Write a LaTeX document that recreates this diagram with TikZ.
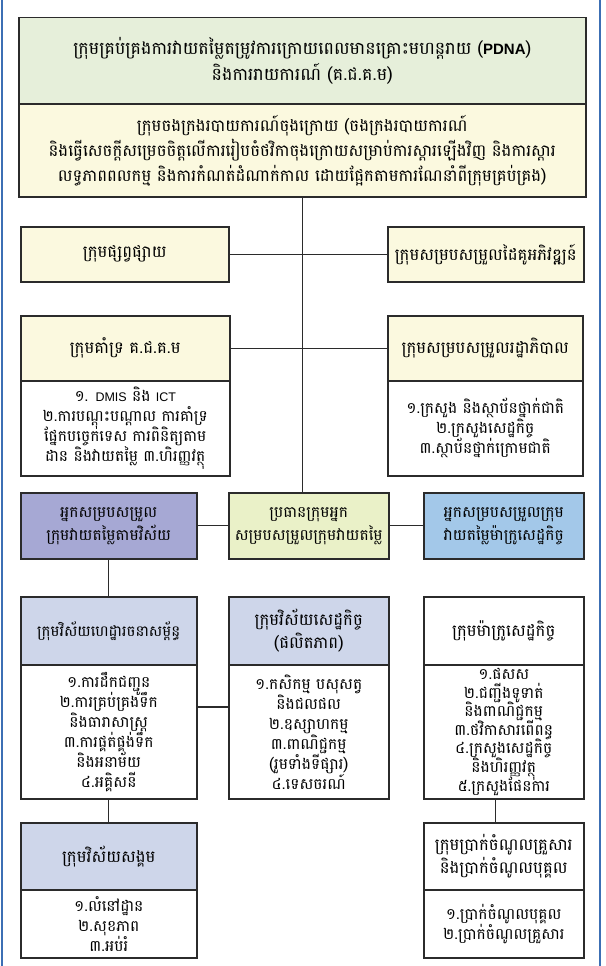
\documentclass[tikz,border=0pt]{standalone}
\usepackage{fontspec}
\newfontfamily\kh[Script=Khmer]{Battambang}
\newfontfamily\lat{Liberation Sans}
\usetikzlibrary{calc}
\definecolor{topgreen}{HTML}{E6EFDA}
\definecolor{cream}{HTML}{FBF9DF}
\definecolor{purplebox}{HTML}{A6A8D4}
\definecolor{chiefbox}{HTML}{EAF1C8}
\definecolor{bluebox}{HTML}{A3C8E9}
\definecolor{sectorbox}{HTML}{CED6EA}
\definecolor{edge}{HTML}{2B2B2B}
\definecolor{frameblue}{HTML}{3C6FB4}
\begin{document}
\begin{tikzpicture}[x=1pt,y=-1pt,
  bx/.style={draw=edge, line width=1.5pt, inner sep=0pt, align=center, anchor=north west, text=black},
  ln/.style={draw=edge, line width=1.4pt},
  bigtxt/.style={font=\kh\fontsize{17.5}{26}\selectfont},
  midtxt/.style={font=\kh\fontsize{16.5}{25}\selectfont},
  hdtxt/.style={font=\kh\fontsize{16.5}{23}\selectfont},
  rowtxt/.style={font=\kh\fontsize{15.5}{23}\selectfont},
  listtxt/.style={font=\kh\fontsize{15.5}{20}\selectfont}]
\lineskiplimit=-50pt \lineskip=0pt
\useasboundingbox (0,0) rectangle (605,966);
\draw[frameblue, line width=1.2pt] (2,0) -- (2,966);
\draw[frameblue, line width=1.2pt] (600,0) -- (600,966);

% top boxes
\node[bx, bigtxt, fill=topgreen, minimum width=567pt, minimum height=86pt] (top) at (18,17)
  {ក្រុមគ្រប់គ្រងការវាយតម្លៃតម្រូវការក្រោយពេលមានគ្រោះមហន្តរាយ ({\lat\bfseries\fontsize{15}{26}\selectfont PDNA})\\និងការរាយការណ៍ (គ.ជ.គ.ម)};
\node[bx, midtxt, fill=cream, minimum width=567pt, minimum height=93pt] (rep) at (18,103)
  {ក្រុមចងក្រងរបាយការណ៍ចុងក្រោយ (ចងក្រងរបាយការណ៍\\និងធ្វើសេចក្តីសម្រេចចិត្តលើការរៀបចំថវិកាចុងក្រោយសម្រាប់ការស្តារឡើងវិញ និងការស្តារ\\លទ្ធភាពពលកម្ម និងការកំណត់ដំណាក់កាល ដោយផ្អែកតាមការណែនាំពីក្រុមគ្រប់គ្រង)};

% media / partners
\node[bx, hdtxt, fill=cream, minimum width=208pt, minimum height=55pt] (media) at (20,226) {ក្រុមផ្សព្វផ្សាយ};
\node[bx, hdtxt, fill=cream, minimum width=196pt, minimum height=55pt] (dev) at (387,226) {ក្រុមសម្របសម្រួលដៃគូអភិវឌ្ឍន៍};

% support / government
\node[bx, hdtxt, fill=cream, minimum width=209pt, minimum height=65pt] (sup) at (20,315) {ក្រុមគាំទ្រ គ.ជ.គ.ម};
\node[bx, listtxt, fill=white, minimum width=209pt, minimum height=95pt] (supL) at (20,380)
  {១. {\lat\fontsize{12.5}{20}\selectfont DMIS} និង {\lat\fontsize{12.5}{20}\selectfont ICT}\\២.ការបណ្តុះបណ្តាល ការគាំទ្រ\\ផ្នែកបច្ចេកទេស ការពិនិត្យតាម\\ដាន និងវាយតម្លៃ ៣.ហិរញ្ញវត្ថុ};
\node[bx, hdtxt, fill=cream, minimum width=195pt, minimum height=65pt] (gov) at (387,315) {ក្រុមសម្របសម្រួលរដ្ឋាភិបាល};
\node[bx, listtxt, fill=white, minimum width=195pt, minimum height=95pt] (govL) at (387,380)
  {១.ក្រសួង និងស្ថាប័នថ្នាក់ជាតិ\\២.ក្រសួងសេដ្ឋកិច្ច\\៣.ស្ថាប័នថ្នាក់ក្រោមជាតិ};

% middle row
\node[bx, rowtxt, fill=purplebox, minimum width=176pt, minimum height=66pt] (secc) at (20,492) {អ្នកសម្របសម្រួល\\ក្រុមវាយតម្លៃតាមវិស័យ};
\node[bx, rowtxt, fill=chiefbox, minimum width=160pt, minimum height=66pt] (chief) at (228,492) {ប្រធានក្រុមអ្នក\\សម្របសម្រួលក្រុមវាយតម្លៃ};
\node[bx, rowtxt, fill=bluebox, minimum width=160pt, minimum height=66pt] (macc) at (423,492) {អ្នកសម្របសម្រួលក្រុម\\វាយតម្លៃម៉ាក្រូសេដ្ឋកិច្ច};

% sector row
\node[bx, font=\kh\fontsize{15}{23}\selectfont, fill=sectorbox, minimum width=176pt, minimum height=68pt] (infra) at (20,596) {ក្រុមវិស័យហេដ្ឋារចនាសម្ព័ន្ធ};
\node[bx, listtxt, fill=white, minimum width=176pt, minimum height=134pt] (infraL) at (20,664)
  {១.ការដឹកជញ្ជូន\\២.ការគ្រប់គ្រងទឹក\\និងធារាសាស្ត្រ\\៣.ការផ្គត់ផ្គង់ទឹក\\និងអនាម័យ\\៤.អគ្គិសនី};
\node[bx, hdtxt, fill=sectorbox, minimum width=160pt, minimum height=68pt] (econ) at (228,596) {ក្រុមវិស័យសេដ្ឋកិច្ច\\(ផលិតភាព)};
\node[bx, listtxt, fill=white, minimum width=160pt, minimum height=134pt] (econL) at (228,664)
  {១.កសិកម្ម បសុសត្វ\\និងជលផល\\២.ឧស្សាហកម្ម\\៣.ពាណិជ្ជកម្ម\\(រួមទាំងទីផ្សារ)\\៤.ទេសចរណ៍};
\node[bx, hdtxt, fill=white, minimum width=160pt, minimum height=68pt] (macro) at (423,596) {ក្រុមម៉ាក្រូសេដ្ឋកិច្ច};
\node[bx, fill=white, minimum width=160pt, minimum height=134pt] (macroL) at (423,664) {};
\node[inner sep=0pt, align=center, font=\kh\fontsize{15.5}{18.6}\selectfont] (macroT) at (macroL.center)
  {១.ផសស\\២.ជញ្ជីងទូទាត់\\និងពាណិជ្ជកម្ម\\៣.ថវិកាសារពើពន្ធ\\៤.ក្រសួងសេដ្ឋកិច្ច\\និងហិរញ្ញវត្ថុ\\៥.ក្រសួងផែនការ};

% bottom row
\node[bx, hdtxt, fill=sectorbox, minimum width=176pt, minimum height=67pt] (soc) at (20,822) {ក្រុមវិស័យសង្គម};
\node[bx, listtxt, fill=white, minimum width=176pt, minimum height=68pt] (socL) at (20,889)
  {១.លំនៅដ្ឋាន\\២.សុខភាព\\៣.អប់រំ};
\node[bx, hdtxt, fill=white, minimum width=160pt, minimum height=67pt] (hh) at (423,822) {ក្រុមប្រាក់ចំណូលគ្រួសារ\\និងប្រាក់ចំណូលបុគ្គល};
\node[bx, listtxt, fill=white, minimum width=160pt, minimum height=68pt] (hhL) at (423,889)
  {១.ប្រាក់ចំណូលបុគ្គល\\២.ប្រាក់ចំណូលគ្រួសារ};

% connectors
\coordinate (spine) at (rep.south);
\draw[ln] (rep.south) -- (spine |- chief.north);
\draw[ln] (media.east) -- (dev.west);
\draw[ln] (sup.east) -- (spine |- sup.east);
\draw[ln] (gov.west) -- (spine |- gov.west);
\draw[ln] (secc.east) -- (chief.west);
\draw[ln] (chief.east) -- (macc.west);
\draw[ln] (secc.south) -- (infra.north);
\coordinate (ie) at ($(infraL.north east)+(0,43)$);
\draw[ln] (ie) -- (ie -| econL.west);
\draw[ln] (infraL.south) -- (soc.north);
\coordinate (mh) at ($(macroL.south)+(-8,0)$);
\draw[ln] (mh) -- (mh |- hh.north);
\end{tikzpicture}
\end{document}
